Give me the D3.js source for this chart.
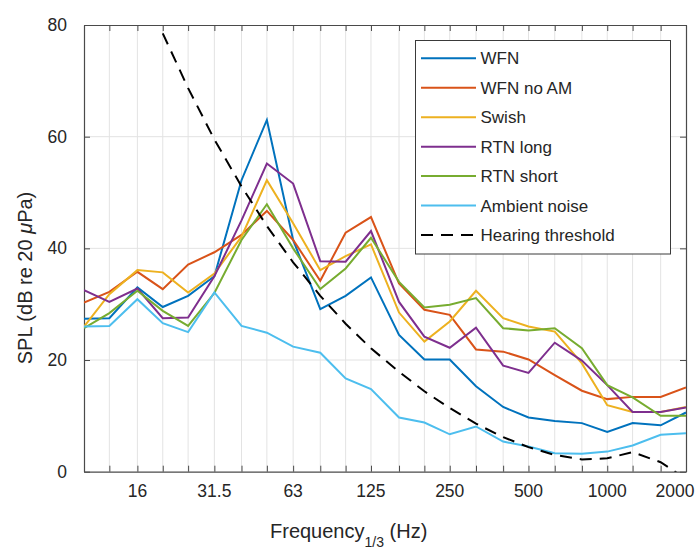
<!DOCTYPE html>
<html>
<head>
<meta charset="utf-8">
<script src="https://cdn.jsdelivr.net/npm/d3@7"></script>
<style>
  body { margin: 0; background: #fff; }
  text { font-family: "Liberation Sans", Arial, sans-serif; fill: #262626; }
</style>
</head>
<body>
<script>
// 1/3 octave band centre frequencies (Hz)
var freqs = [10, 12.5, 16, 20, 25, 31.5, 40, 50, 63, 80, 100, 125, 160, 200, 250, 315, 400, 500, 630, 800, 1000, 1250, 1600, 2000];
var tickFreqs = [16, 31.5, 63, 125, 250, 500, 1000, 2000];
var yTicks = [0, 20, 40, 60, 80];

var wfn     = [27.4, 27.5, 33.0, 29.5, 31.5, 35.0, 52.2, 63.0, 41.5, 29.1, 31.5, 34.8, 24.5, 20.1, 20.1, 15.3, 11.6, 9.7, 9.1, 8.7, 7.1, 8.7, 8.3, 10.6];
var wfnNoAM = [30.3, 32.2, 35.8, 32.7, 37.1, 39.3, 42.4, 46.7, 41.5, 34.2, 42.8, 45.6, 33.7, 29.0, 28.1, 21.9, 21.5, 20.1, 17.3, 14.5, 13.0, 13.4, 13.4, 15.1];
var swish   = [26.0, 31.8, 36.1, 35.7, 32.1, 35.5, 42.1, 52.2, 44.5, 36.1, 38.6, 40.7, 28.5, 23.3, 26.9, 32.4, 27.5, 26.0, 25.1, 19.4, 11.9, 10.7, 10.7, 11.6];
var rtnLong = [32.5, 30.4, 32.8, 27.5, 27.6, 35.0, 45.0, 55.2, 51.6, 37.7, 37.6, 43.1, 30.4, 24.2, 22.2, 25.8, 19.0, 17.7, 23.1, 19.9, 15.5, 10.7, 10.7, 11.5];
var rtnShort= [25.7, 28.4, 32.4, 28.8, 26.1, 32.0, 41.5, 47.9, 40.0, 32.7, 36.4, 41.9, 34.0, 29.4, 29.9, 31.1, 25.7, 25.3, 25.7, 22.1, 15.5, 13.3, 10.0, 10.0];
var ambient = [26.0, 26.1, 30.9, 26.6, 25.0, 32.1, 26.1, 24.9, 22.4, 21.3, 16.7, 14.8, 9.7, 8.8, 6.7, 8.1, 5.4, 4.5, 3.3, 3.2, 3.6, 4.7, 6.6, 6.9];
// hearing threshold starts at 20 Hz
var thresholdFreqs = freqs.slice(3);
var threshold = [78.5, 68.7, 59.5, 51.1, 44.0, 37.5, 31.5, 26.5, 22.1, 17.9, 14.4, 11.4, 8.6, 6.2, 4.4, 3.0, 2.2, 2.4, 3.5, 1.7, -1.3];

var seriesNames = ["WFN", "WFN no AM", "Swish", "RTN long", "RTN short", "Ambient noise", "Hearing threshold"];
var seriesColors = ["#0072BD", "#D95319", "#EDB120", "#7E2F8E", "#77AC30", "#4DBEEE", "#000000"];

var series = [
    { name: seriesNames[0], color: seriesColors[0], x: freqs, y: wfn },
    { name: seriesNames[1], color: seriesColors[1], x: freqs, y: wfnNoAM },
    { name: seriesNames[2], color: seriesColors[2], x: freqs, y: swish },
    { name: seriesNames[3], color: seriesColors[3], x: freqs, y: rtnLong },
    { name: seriesNames[4], color: seriesColors[4], x: freqs, y: rtnShort },
    { name: seriesNames[5], color: seriesColors[5], x: freqs, y: ambient },
    { name: seriesNames[6], color: seriesColors[6], x: thresholdFreqs, y: threshold, dash: "12,8" }
];

var width = 700, height = 550;
var margin = { top: 25, right: 14, bottom: 78.3, left: 84 };

var svg = d3.select("body").append("svg")
    .attr("width", width)
    .attr("height", height);

var xScale = d3.scaleLog().domain([10, 2000]).range([margin.left, width - margin.right]);
var yScale = d3.scaleLinear().domain([0, 80]).range([height - margin.bottom, margin.top]);

var x0 = xScale.range()[0], x1 = xScale.range()[1];
var y0 = yScale.range()[0], y1 = yScale.range()[1];

svg.append("clipPath").attr("id", "plotclip")
    .append("rect")
    .attr("x", x0).attr("y", y1)
    .attr("width", x1 - x0).attr("height", y0 - y1);

// grid
var grid = svg.append("g");
grid.selectAll(".vgrid").data(freqs.slice(1, -1)).enter().append("line")
    .attr("x1", d => xScale(d)).attr("x2", d => xScale(d))
    .attr("y1", y1).attr("y2", y0)
    .attr("stroke", "#e3e3e3").attr("stroke-width", 1);
grid.selectAll(".hgrid").data(yTicks.slice(1, -1)).enter().append("line")
    .attr("x1", x0).attr("x2", x1)
    .attr("y1", d => yScale(d)).attr("y2", d => yScale(d))
    .attr("stroke", "#e3e3e3").attr("stroke-width", 1);

// axes (ticks inside, box on)
var tickLen = 6;
var axisColor = "#4a4a4a";

var bottomAxis = svg.append("g")
    .attr("transform", "translate(0," + y0 + ")")
    .call(d3.axisBottom(xScale).tickValues(freqs).tickSizeInner(-tickLen).tickSizeOuter(0).tickFormat(""));
var topAxis = svg.append("g")
    .attr("transform", "translate(0," + y1 + ")")
    .call(d3.axisTop(xScale).tickValues(freqs).tickSizeInner(-tickLen).tickSizeOuter(0).tickFormat(""));
var leftAxis = svg.append("g")
    .attr("transform", "translate(" + x0 + ",0)")
    .call(d3.axisLeft(yScale).tickValues(yTicks).tickSizeInner(-tickLen).tickSizeOuter(0).tickFormat(""));
var rightAxis = svg.append("g")
    .attr("transform", "translate(" + x1 + ",0)")
    .call(d3.axisRight(yScale).tickValues(yTicks).tickSizeInner(-tickLen).tickSizeOuter(0).tickFormat(""));

[bottomAxis, topAxis, leftAxis, rightAxis].forEach(function(a) {
    a.select(".domain").attr("stroke", axisColor).attr("stroke-width", 1.2);
    a.selectAll(".tick line").attr("stroke", axisColor).attr("stroke-width", 1);
});

// tick labels
svg.append("g").selectAll("text").data(tickFreqs).enter().append("text")
    .attr("x", d => xScale(d))
    .attr("dx", d => d === 2000 ? -11 : 0)
    .attr("y", y0 + 25)
    .attr("text-anchor", "middle")
    .attr("font-size", "17.5px")
    .text(d => d);

svg.append("g").selectAll("text").data(yTicks).enter().append("text")
    .attr("x", x0 - 17)
    .attr("y", d => yScale(d) + 6)
    .attr("text-anchor", "end")
    .attr("font-size", "17.5px")
    .text(d => d);

// axis labels
var xl = svg.append("text")
    .attr("x", 270)
    .attr("y", 538)
    .attr("font-size", "20px");
xl.append("tspan").text("Frequency");
xl.append("tspan").attr("dy", 9).attr("font-size", "14px").text("1/3");
xl.append("tspan").attr("dy", -9).text(" (Hz)");

var yl = svg.append("text")
    .attr("transform", "translate(32,278) rotate(-90)")
    .attr("text-anchor", "middle")
    .attr("font-size", "20px");
yl.append("tspan").text("SPL (dB re 20 ");
yl.append("tspan").attr("font-style", "italic").text("μ");
yl.append("tspan").text("Pa)");

// lines
var line = d3.line()
    .x(d => xScale(d[0]))
    .y(d => yScale(d[1]));

svg.append("g").attr("clip-path", "url(#plotclip)")
    .selectAll("path").data(series).enter().append("path")
    .attr("d", s => line(s.x.map((f, i) => [f, s.y[i]])))
    .attr("fill", "none")
    .attr("stroke", s => s.color)
    .attr("stroke-width", 2)
    .attr("stroke-dasharray", s => s.dash || null);

// legend
var legend = svg.append("g").attr("transform", "translate(415.5,40.5)");
legend.append("rect")
    .attr("width", 255).attr("height", 213.5)
    .attr("fill", "#fff")
    .attr("stroke", "#3a3a3a").attr("stroke-width", 1);

var rows = legend.selectAll(".row").data(series).enter().append("g")
    .attr("transform", (d, i) => "translate(0," + (17.8 + i * 29.45) + ")");
rows.append("line")
    .attr("x1", 5.5).attr("x2", 60.5)
    .attr("stroke", d => d.color)
    .attr("stroke-width", 2)
    .attr("stroke-dasharray", d => d.dash || null);
rows.append("text")
    .attr("x", 65)
    .attr("y", 6)
    .attr("font-size", "17px")
    .text(d => d.name);
</script>
</body>
</html>
